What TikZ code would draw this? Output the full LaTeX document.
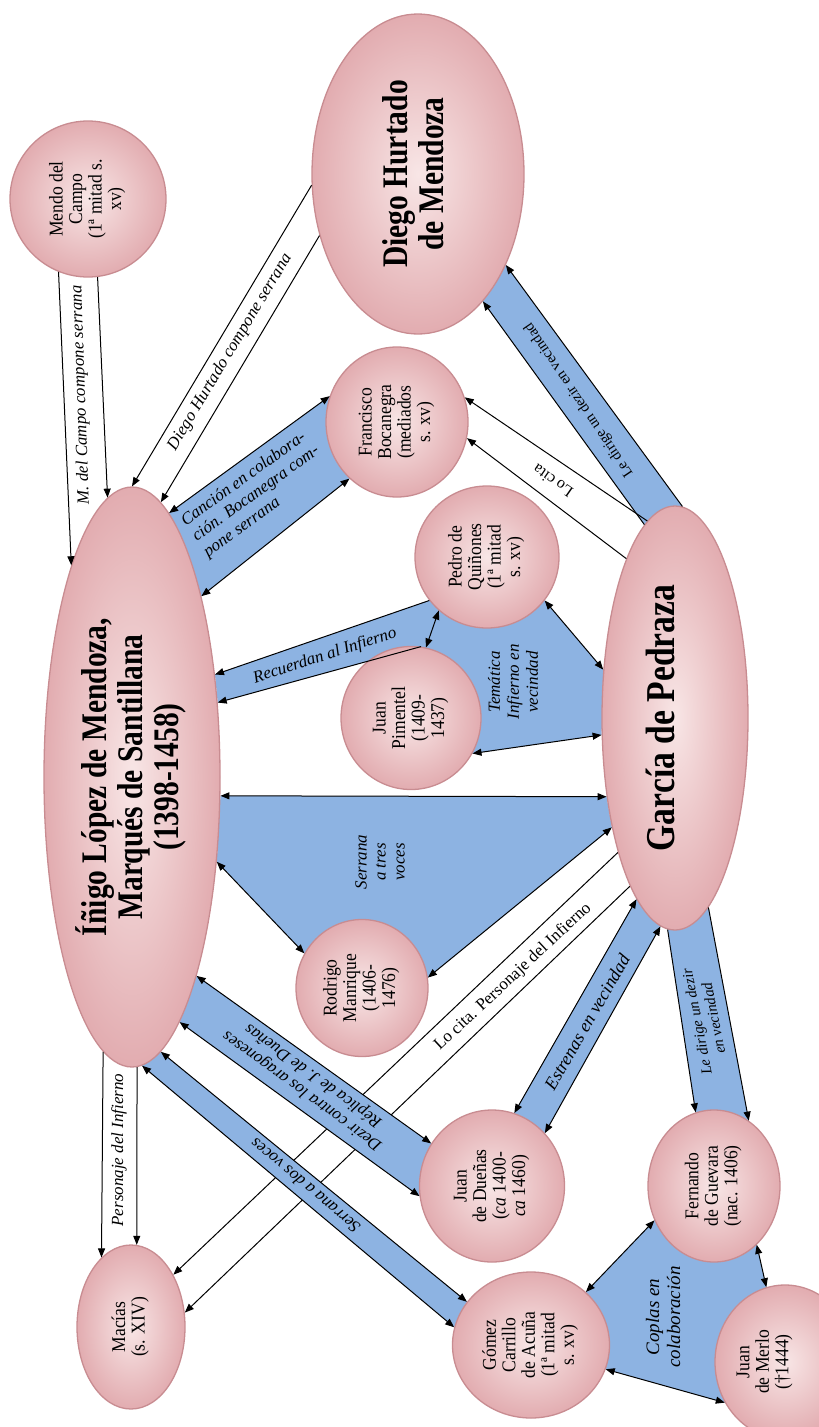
\documentclass[tikz,border=0pt]{standalone}
\usepackage{fontspec}
\setmainfont{Liberation Serif}
\newfontfamily\titlefont[FakeStretch=0.82]{Liberation Serif}
\newfontfamily\namefont[FakeStretch=0.9]{Liberation Serif}
\usetikzlibrary{shapes.geometric,arrows.meta}
\pgfdeclarelayer{under}
\pgfdeclarelayer{fills}
\pgfsetlayers{under,fills,main}
\definecolor{bandblue}{RGB}{141,179,226}
\definecolor{pinkin}{RGB}{248,230,230}
\definecolor{pinkout}{RGB}{226,172,176}
\definecolor{pinkedge}{RGB}{200,140,145}
% text of a person, set upright in lines and turned a quarter turn
\newcommand\vstack[1]{\rotatebox{90}{\begin{tabular}{@{}c@{}}#1\end{tabular}}}
\begin{document}
\begin{tikzpicture}[x=1pt,y=-1pt,
  >={Triangle[length=9pt,width=7pt]},
  person/.style={ellipse, draw=pinkedge, line width=1.3pt, inner color=pinkin,
    outer color=pinkout, inner sep=0pt, font=\namefont\fontsize{19.5}{19.5}\selectfont},
  bigperson/.style={person, font=\titlefont\bfseries\fontsize{#1}{#1}\selectfont},
  conn/.style={line width=1pt, ->},
  biconn/.style={line width=1pt, <->},
  lab/.style={inner sep=0pt, font=\fontsize{17}{19}\selectfont\itshape},
  ulab/.style={inner sep=0pt, font=\fontsize{17}{19}\selectfont},
  fillband/.style={fill=bandblue}]
\path[use as bounding box] (0,0) rectangle (819,1427);
\clip (0,0) rectangle (819,1427);

% ---------- people ----------
\node[person, minimum width=156pt, minimum height=156pt] (mendo) at (88,199)
  {\vstack{Mendo del\\Campo\\(1ª mitad s.\\xv)}};
\node[bigperson=36, minimum width=212pt, minimum height=320pt] (diego) at (418,174)
  {\vstack{Diego Hurtado\\de Mendoza}};
\node[bigperson=36, minimum width=176pt, minimum height=580pt] (inigo) at (132,777)
  {\vstack{Íñigo López de Mendoza,\\Marqués de Santillana\\(1398-1458)}};
\node[person, minimum width=142pt, minimum height=150pt] (franc) at (397,422)
  {\vstack{Francisco\\Bocanegra\\(mediados\\s. xv)}};
\node[person, minimum width=144pt, minimum height=142pt] (pedro) at (487,557)
  {\vstack{Pedro de\\Quiñones\\(1ª mitad\\s. xv)}};
\node[person, minimum width=140pt, minimum height=143pt] (piment) at (411,718)
  {\vstack{Juan\\Pimentel\\(1409-\\1437)}};
\node[bigperson=41, minimum width=146pt, minimum height=424pt] (garcia) at (675,718)
  {\vstack{García de Pedraza}\hspace*{18pt}};
\node[person, minimum width=132pt, minimum height=137pt] (rodrigo) at (362,988)
  {\vstack{Rodrigo\\Manrique\\(1406-\\1476)}};
\node[person, minimum width=145pt, minimum height=152pt] (duenas) at (492,1186)
  {\vstack{Juan\\de Dueñas\\(\textit{ca} 1400-\\\textit{ca} 1460)}};
\node[person, minimum width=132pt, minimum height=152pt] (guevara) at (714,1186)
  {\vstack{Fernando\\de Guevara\\(nac. 1406)}};
\node[person, minimum width=157pt, minimum height=146pt] (gomez) at (531,1345)
  {\vstack{Gómez\\Carrillo\\de Acuña\\(1ª mitad\\s. xv)}};
\node[person, minimum width=140pt, minimum height=154pt] (merlo) at (785,1362)
  {\vstack{Juan\\de Merlo\\(†1444)}\hspace*{40pt}};
\node[person, minimum width=108pt, minimum height=164pt] (macias) at (131,1327)
  {\vstack{Macías\\(s. XIV)}};

% ---------- lines that pass under the bands ----------
\begin{pgfonlayer}{under}
  \draw[conn] (garcia.247) -- (macias.51);
  \draw[conn] (garcia.255) -- (macias.15);
\end{pgfonlayer}

% ---------- blue bands and regions ----------
\begin{pgfonlayer}{fills}
  \fill[fillband] (inigo.82) -- (franc.159) -- (franc.230) -- (inigo.69) -- cycle;
  \fill[fillband] (pedro.217) -- (inigo.51) -- (inigo.41) -- (piment.82) -- (piment.center)
    -- (piment.330) -- (garcia.193) -- (garcia.146) -- (pedro.323) -- (pedro.center) -- cycle;
  \fill[fillband] (inigo.348) -- (garcia.229) -- (garcia.240) -- (rodrigo.9)
    -- (rodrigo.149) -- (inigo.315) -- cycle;
  \fill[fillband] (garcia.99) -- (diego.297) -- (diego.314) -- (garcia.88) -- cycle;
  \fill[fillband] (garcia.258) -- (duenas.73) -- (duenas.45) -- (garcia.266) -- cycle;
  \fill[fillband] (garcia.268) -- (guevara.104) -- (guevara.62) -- (garcia.280) -- cycle;
  \fill[fillband] (inigo.288) -- (duenas.145) -- (duenas.188) -- (inigo.281) -- cycle;
  \fill[fillband] (inigo.276) -- (gomez.146) -- (gomez.167) -- (inigo.272) -- cycle;
  \fill[fillband] (gomez.44) -- (guevara.210) -- (guevara.center) -- (guevara.306)
    -- (merlo.104) -- (merlo.center) -- (merlo.214) -- (gomez.342) -- (gomez.center) -- cycle;
\end{pgfonlayer}

% ---------- connectors ----------
\draw[conn] (mendo.248) -- (inigo.106);
\draw[conn] (mendo.277) -- (inigo.95);
\draw[conn] (diego.186) -- (inigo.90);
\draw[conn] (diego.212) -- (inigo.84);
\draw[biconn] (inigo.82) -- (franc.159);
\draw[biconn] (inigo.69) -- (franc.230);
\draw[conn] (pedro.217) -- (inigo.51);
\draw[conn] (piment.82) -- (inigo.41);
\draw[biconn] (pedro.228) -- (piment.78);
\draw[biconn] (pedro.323) -- (garcia.146);
\draw[biconn] (piment.330) -- (garcia.193);
\draw[biconn] (inigo.348) -- (garcia.229);
\draw[biconn] (inigo.315) -- (rodrigo.149);
\draw[biconn] (rodrigo.9) -- (garcia.240);
\draw[conn] (garcia.98) -- (franc.20);
\draw[conn] (garcia.107) -- (franc.347);
\draw[conn] (garcia.99) -- (diego.297);
\draw[conn] (garcia.88) -- (diego.314);
\draw[biconn] (garcia.258) -- (duenas.73);
\draw[biconn] (garcia.266) -- (duenas.45);
\draw[conn] (garcia.268) -- (guevara.104);
\draw[conn] (garcia.280) -- (guevara.62);
\draw[biconn] (inigo.288) -- (duenas.145);
\draw[biconn] (inigo.281) -- (duenas.188);
\draw[biconn] (inigo.276) -- (gomez.146);
\draw[biconn] (inigo.272) -- (gomez.167);
\draw[conn] (inigo.264) -- (macias.113);
\draw[conn] (inigo.271) -- (macias.86);
\draw[biconn] (gomez.44) -- (guevara.210);
\draw[biconn] (guevara.306) -- (merlo.104);
\draw[biconn] (gomez.342) -- (merlo.214);

% ---------- connector labels ----------
\node[lab, rotate=92] (lmendo) at (81,395) {M. del Campo compone serrana};
\node[lab, rotate=59] (ldiego) at (230,352) {Diego Hurtado compone serrana};
\node[lab, rotate=36, align=left] (lcancion) at (256,494)
  {Canción en colabora-\\ción. Bocanegra com-\\pone serrana};
\node[lab, rotate=18] (lrecuerdan) at (325,656) {Recuerdan al Infierno};
\node[lab, rotate=90, align=center] (ltematica) at (513,682) {Temática\\Infierno en\\vecindad};
\node[lab, rotate=90, align=center] (lserrana3) at (380,862) {Serrana\\a tres\\voces};
\node[ulab, rotate=145, font=\fontsize{16}{18}\selectfont] (llocita) at (553,481) {Lo cita};
\node[ulab, rotate=124, font=\fontsize{15}{17}\selectfont] (ldirige1) at (579,400)
  {Le dirige un dezir en vecindad};
\node[ulab, rotate=43] (lpersonaje) at (513,977) {Lo cita. Personaje del Infierno};
\node[lab, rotate=60, font=\fontsize{18}{20}\selectfont\itshape] (lestrenas) at (587,1022)
  {Estrenas en vecindad};
\node[lab, rotate=101, align=center, font=\fontsize{15}{17}\selectfont\itshape] (ldirige2)
  at (705,1020) {Le dirige un dezir\\en vecindad};
\node[lab, rotate=144, align=center] (ldezir) at (308,1083)
  {Dezir contra los aragoneses\\Réplica de J. de Dueñas};
\node[lab, rotate=140] (lserrana2) at (305,1186) {Serrana a dos voces};
\node[lab, rotate=90] (lmacias) at (119,1150) {Personaje del Infierno};
\node[lab, rotate=90, align=center, font=\fontsize{19}{21}\selectfont\itshape] (lcoplas)
  at (663,1317) {Coplas en\\colaboración};
\end{tikzpicture}
\end{document}
